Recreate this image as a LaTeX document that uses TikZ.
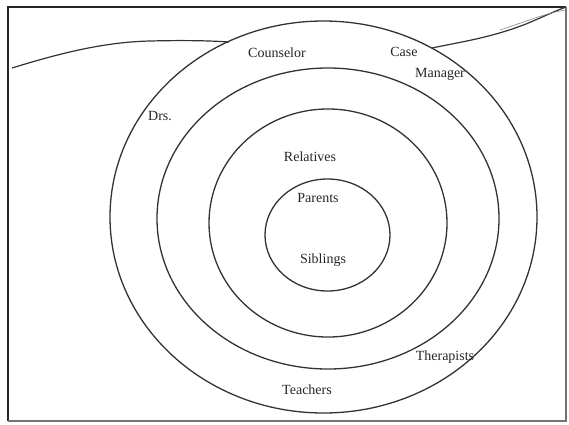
\documentclass[tikz,border=0pt]{standalone}
\usepackage{fontspec}
\setmainfont{Liberation Serif}
\usetikzlibrary{shapes.geometric}
\definecolor{ink}{HTML}{333333}
\definecolor{txt}{HTML}{262626}
\tikzset{
  ring/.style={draw=ink, line width=1.3pt},
  lbl/.style={text=txt, font=\fontsize{14}{16}\selectfont, inner sep=0pt},
  wave/.style={draw=ink, line width=1.2pt},
  frame/.style={draw=black!85, line width=1.6pt}
}
\begin{document}
\begin{tikzpicture}[x=1pt,y=-1pt]
\useasboundingbox (0,0) rectangle (569,424);
\fill[white] (0,0) rectangle (569,424);
% frame
\draw[frame] (8,421) -- (8,7) -- (566,7);
\draw[draw=black!55, line width=1.2pt] (8,421) -- (566,421) -- (566,7);
% rings
\draw[ring] (323.5,217) ellipse [x radius=213.5, y radius=196];
\draw[ring] (328,218.5) ellipse [x radius=171, y radius=150.5];
\draw[ring] (328,223) ellipse [x radius=119, y radius=114];
\draw[ring] (327.5,235) ellipse [x radius=62.5, y radius=56];
% wavy horizon lines
\coordinate (wl0) at (12,68);
\coordinate (wl1) at (229,42);
\coordinate (wr0) at (432,48);
\coordinate (wr1) at (566,7);
\draw[wave] (wl0) .. controls (70,50) and (110,42) .. (150,41) .. controls (190,40) and (215,41) .. (wl1);
\draw[wave] (wr0) .. controls (460,42) and (490,38) .. (526,24) .. controls (545,16) and (555,11) .. (wr1);
\draw[draw=ink!60, line width=0.6pt] (500,30) .. controls (530,20) and (550,12) .. (566,10);
% labels
\node[lbl] (counselor) at (277,53) {Counselor};
\node[lbl] (case) at (404,52) {Case};
\node[lbl] (manager) at (440,74) {Manager};
\node[lbl] (drs) at (160,116) {Drs.};
\node[lbl] (relatives) at (310,157) {Relatives};
\node[lbl] (parents) at (318,198) {Parents};
\node[lbl] (siblings) at (323,260) {Siblings};
\node[lbl] (therapists) at (445,357) {Therapists};
\node[lbl] (teachers) at (307,390) {Teachers};
\end{tikzpicture}
\end{document}
